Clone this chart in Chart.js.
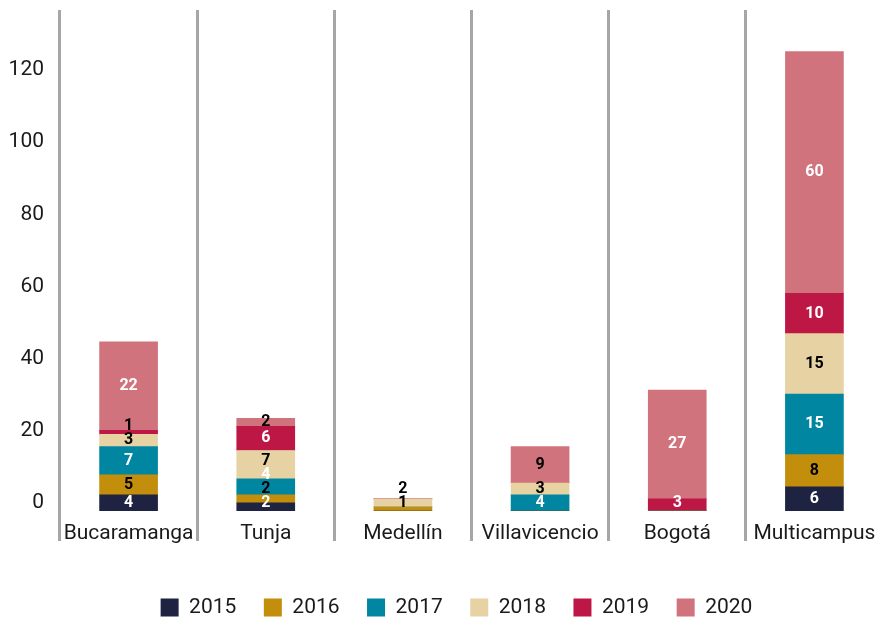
<!DOCTYPE html>
<html>
<head>
<meta charset="utf-8">
<script src="https://cdn.jsdelivr.net/npm/chart.js@4/dist/chart.umd.min.js"></script>
<style>
  html, body { margin: 0; padding: 0; background: #fff; }
  #wrap { width: 879px; height: 621px; }
</style>
</head>
<body>
<div id="wrap"><canvas id="sedes_chart"></canvas></div>
<script>
var sedes = ['Bucaramanga', 'Tunja', 'Medellín', 'Villavicencio', 'Bogotá', 'Multicampus']
var years = ['2015', '2016', '2017', '2018', '2019', '2020']

var v2015 = [4, 2, 0, 0, 0, 6]
var v2016 = [5, 2, 1, 0, 0, 8]
var v2017 = [7, 4, 0, 4, 0, 15]
var v2018 = [3, 7, 2, 3, 0, 15]
var v2019 = [1, 6, 0, 0, 3, 10]
var v2020 = [22, 2, 0, 9, 27, 60]

var yTicks = [0, 20, 40, 60, 80, 100, 120]

var colors = ['#1d2341', '#c28e0b', '#0086a1', '#e7d2a4', '#bd1746', '#d1737d']
// label colour per series, with a few points drawn in black like the original
var labelColors = ['#fff', '#000', '#fff', '#000', '#fff', '#fff']
var labelBlack = { '4-0': true, '5-1': true, '5-3': true }

var series = [v2015, v2016, v2017, v2018, v2019, v2020]
var font = "Roboto, 'DejaVu Sans', sans-serif"

var stackLabels = {
    id: 'stackLabels',
    afterLayout: function (chart) {
        // nudge legend to the right, like the original
        chart.legend.left += 17
        chart.legend.right += 17
        // last category runs a little past the canvas edge in the original
        var x = chart.scales.x
        x.right += 4
        x.width += 4
        chart.chartArea.right += 4
        chart.chartArea.width += 4
        x.configure()
    },
    afterDatasetsDraw: function (chart) {
        var ctx = chart.ctx
        ctx.save()
        ctx.font = 'bold 16px ' + font
        ctx.textAlign = 'center'
        ctx.textBaseline = 'middle'
        for (var i = 0; i < sedes.length; i++) {
            var prev = null
            for (var d = 0; d < series.length; d++) {
                var val = series[d][i]
                if (!val) continue
                var bar = chart.getDatasetMeta(d).data[i]
                var y = (bar.y + bar.base) / 2
                if (prev === null) y = Math.min(y, bar.base - 8)
                else y = Math.min(y, prev - 14)
                prev = y
                ctx.fillStyle = labelBlack[d + '-' + i] ? '#000' : labelColors[d]
                ctx.fillText(String(val), bar.x, y)
            }
        }
        ctx.restore()
    }
}

var ctx = document.getElementById('sedes_chart')

var sedesChart = new Chart(ctx, {
    type: 'bar',
    data: {
        labels: sedes,
        datasets: series.map(function (s, k) {
            return {
                label: years[k],
                data: s,
                backgroundColor: colors[k],
                borderWidth: 0,
                yAxisID: 'yb',
                barThickness: 58
            }
        })
    },
    options: {
        responsive: true,
        maintainAspectRatio: false,
        animation: false,
        layout: { padding: { top: 10, right: 0, bottom: -7, left: 0 } },
        plugins: {
            legend: {
                position: 'bottom',
                labels: {
                    boxWidth: 18,
                    boxHeight: 18,
                    padding: 27.5,
                    color: '#1a1a1a',
                    font: { family: font, size: 21 }
                }
            },
            tooltip: { enabled: false }
        },
        scales: {
            x: {
                stacked: true,
                offset: true,
                grid: {
                    offset: true,
                    color: '#a6a6a6',
                    lineWidth: 3,
                    tickLength: 30,
                    tickColor: '#a6a6a6'
                },
                border: { display: false },
                ticks: {
                    color: '#1a1a1a',
                    padding: -20,
                    font: { family: font, size: 21 }
                },
                afterFit: function (s) {
                    s.height = 58.5
                    s.paddingLeft = 0
                    s.paddingRight = 0
                }
            },
            y: {
                position: 'left',
                min: -2.2,
                max: 136.6,
                grid: { display: false, drawTicks: false },
                border: { display: false },
                ticks: {
                    color: '#1a1a1a',
                    padding: 16,
                    font: { family: font, size: 21 }
                },
                afterBuildTicks: function (s) {
                    s.ticks = yTicks.map(function (v) { return { value: v } })
                },
                afterFit: function (s) {
                    s.width = 60
                    s.paddingTop = 0
                    s.paddingBottom = 0
                }
            },
            yb: {
                display: false,
                stacked: true,
                min: 0,
                max: 124.3
            }
        }
    },
    plugins: [stackLabels]
})
</script>
</body>
</html>
